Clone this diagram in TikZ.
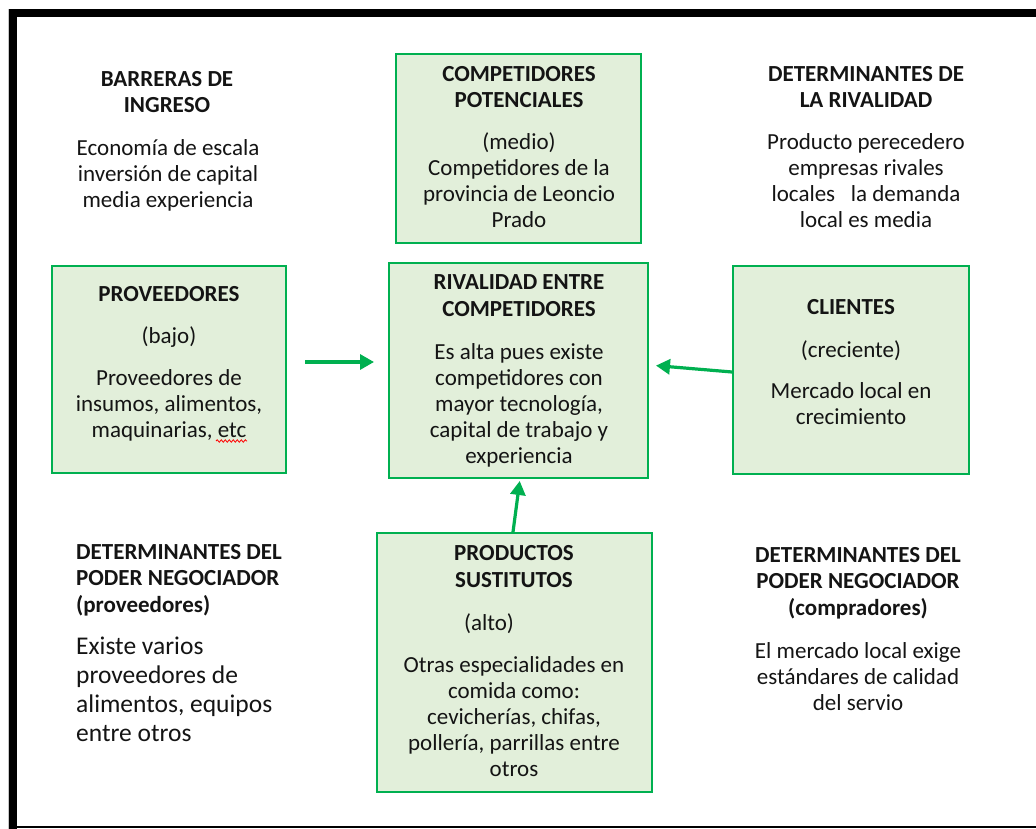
\documentclass[tikz,border=0pt]{standalone}
\usepackage{fontspec}
\setmainfont{Carlito}
\usetikzlibrary{arrows.meta,decorations.pathmorphing}
\definecolor{bxgreen}{HTML}{00B050}
\definecolor{bxfill}{HTML}{E2EFDA}
\definecolor{txt}{HTML}{141414}
\begin{document}
\begin{tikzpicture}[x=1pt,y=-1pt,
  box/.style={draw=bxgreen, fill=bxfill, line width=2pt, inner sep=0pt},
  hd/.style={font=\bfseries\fontsize{23}{26.5}\selectfont, align=center, text=txt, inner sep=0pt, anchor=base},
  bd/.style={font=\fontsize{23}{26}\selectfont, align=center, text=txt, inner sep=0pt, anchor=base},
  bdl/.style={font=\fontsize{25.5}{29}\selectfont, align=left, text=txt, inner sep=0pt, anchor=base west},
  arr/.style={draw=bxgreen, line width=3.2pt, -{Triangle[length=14pt,width=15pt]}}]
\useasboundingbox (0,0) rectangle (1036,829);
% frame
\fill[gray!45] (8,9) rectangle (9,829);
\fill[black] (9,9) rectangle (1036,17);
\fill[black] (9,9) rectangle (16.5,829);
\fill[black] (16,826) rectangle (1036,828);
% boxes
\node[box, minimum width=245pt, minimum height=189pt] (comp) at (518.5,148.5) {};
\node[box, minimum width=234pt, minimum height=207pt] (prov) at (169,369.5) {};
\node[box, minimum width=259pt, minimum height=215pt] (rival) at (518.5,370.5) {};
\node[box, minimum width=236pt, minimum height=208pt] (cli) at (851,370) {};
\node[box, minimum width=275pt, minimum height=259pt] (sust) at (514.5,662.5) {};
% texts: top left (anchor base = last line baseline)
\node[hd] (tlH) at (167,113) {BARRERAS DE\\INGRESO};
\node[bd] (tlB) at (168,208) {Economía de escala\\inversión de capital\\media experiencia};
% competidores potenciales
\node[hd] (compH) at (519,108) {COMPETIDORES\\POTENCIALES};
\node[bd] (compB) at (519,228) {(medio)\\Competidores de la\\provincia de Leoncio\\Prado};
% top right
\node[hd] (trH) at (866,108) {DETERMINANTES DE\\LA RIVALIDAD};
\node[bd] (trB) at (866,228) {Producto perecedero\\empresas rivales\\locales\ \ \ la demanda\\local es media};
% proveedores
\node[hd] (provH) at (169,301) {PROVEEDORES};
\node[bd] (provB) at (169,437) {(bajo)\\[16pt]Proveedores de\\insumos, alimentos,\\maquinarias, etc};
\draw[red, line width=0.8pt, decorate, decoration={snake, amplitude=1.2pt, segment length=4pt}] (216,441) -- (247,441);
% rivalidad
\node[hd] (rivH) at (519,316) {RIVALIDAD ENTRE\\COMPETIDORES};
\node[bd] (rivB) at (519,463) {Es alta pues existe\\competidores con\\mayor tecnología,\\capital de trabajo y\\experiencia};
% clientes
\node[hd] (cliH) at (851,314) {CLIENTES};
\node[bd] (cliB) at (851,424) {(creciente)\\[15pt]Mercado local en\\crecimiento};
% sustitutos
\node[hd] (sustH) at (514,587) {PRODUCTOS\\SUSTITUTOS};
\node[bd] (sustA) at (489,630) {(alto)};
\node[bd] (sustB) at (514,776) {Otras especialidades en\\comida como:\\cevicherías, chifas,\\pollería, parrillas entre\\otros};
% bottom left
\node[hd, anchor=base west, align=left] (blH) at (76,612) {DETERMINANTES DEL\\PODER NEGOCIADOR\\(proveedores)};
\node[bdl] (blB) at (76,741) {Existe varios\\proveedores de\\alimentos, equipos\\entre otros};
% bottom right
\node[hd] (brH) at (858,615) {DETERMINANTES DEL\\PODER NEGOCIADOR\\(compradores)};
\node[bd] (brB) at (858,710) {El mercado local exige\\estándares de calidad\\del servio};
% arrows
\draw[arr, shorten <=18pt, shorten >=14pt] ([yshift=7.5pt]prov.east) -- ([yshift=8.5pt]rival.west);
\draw[arr, shorten >=7pt] ([yshift=-2pt]cli.west) -- ([yshift=5.5pt]rival.east);
\draw[arr, shorten >=2pt] ([xshift=-1.5pt]sust.north) -- ([xshift=1.5pt]rival.south);
\end{tikzpicture}
\end{document}
